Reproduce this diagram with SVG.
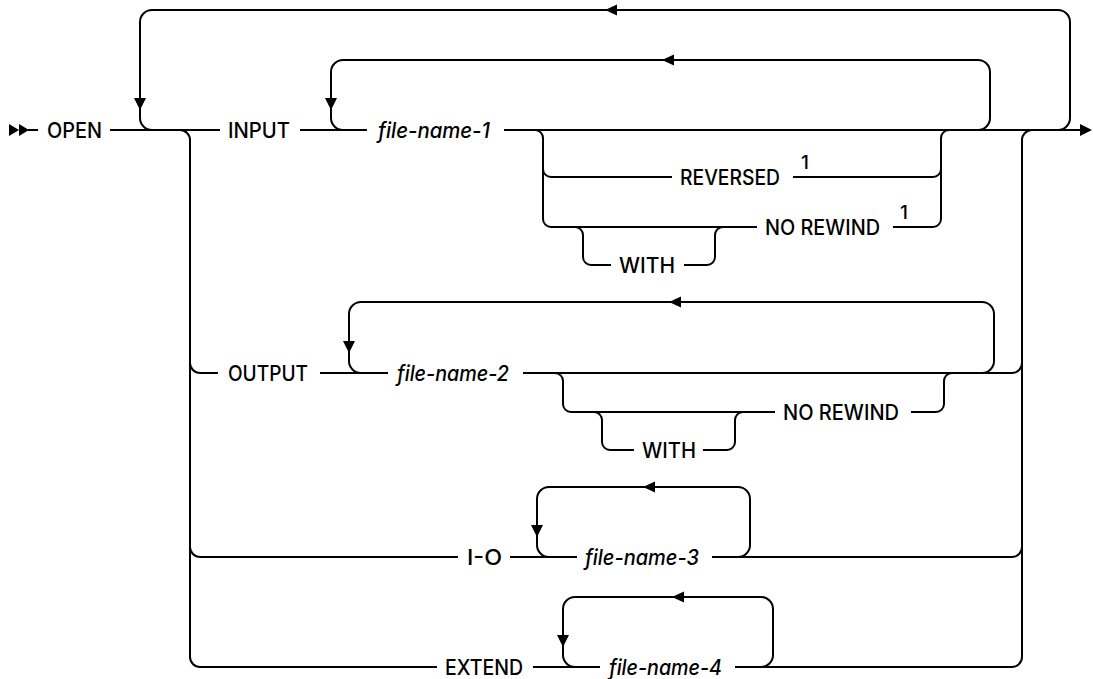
<svg xmlns="http://www.w3.org/2000/svg" width="1093" height="679" viewBox="0 0 1093 679">
<style>
.ln{fill:none;stroke:#000;stroke-width:2;stroke-linecap:butt;stroke-linejoin:round}
.ah{fill:#000;stroke:none}
.t{font-family:Inter,"Liberation Sans",Arial,sans-serif;font-size:21px;font-weight:500;fill:#000}
.v{font-family:Inter,"Liberation Sans",Arial,sans-serif;font-size:21px;font-weight:500;font-style:italic;fill:#000}
.n{font-family:Inter,"Liberation Sans",Arial,sans-serif;font-size:19px;font-weight:500;fill:#000}
</style>
<rect width="1093" height="679" fill="#fff"/>
<g id="connectors">
<!-- start marker -->
<path class="ah" d="M9,124 L19,130 L9,136 Z M19,124 L29,130 L19,136 Z"/>
<path class="ln" d="M28,130 H38"/>
<!-- main line -->
<path class="ln" d="M110,130 H220 M300,130 H367 M504,130 H1080"/>
<path class="ah" d="M1080,124 L1092,130 L1080,136 Z"/>
<!-- outer repeat loop -->
<path class="ln" d="M1058,130 A12,12 0 0 0 1070,118 V22 A12,12 0 0 0 1058,10 H152 A12,12 0 0 0 140,22 V118 A12,12 0 0 0 152,130"/>
<path class="ah" d="M605,10 L617,4.5 L617,15.5 Z M134,98 L146,98 L140,110 Z"/>
<!-- main choice left / right -->
<path class="ln" d="M180,130 A10,10 0 0 1 190,140 V657 A10,10 0 0 0 200,667 H437"/>
<path class="ln" d="M190,363 A10,10 0 0 0 200,373 H218 M190,547 A10,10 0 0 0 200,557 H458"/>
<path class="ln" d="M1032,130 A10,10 0 0 0 1022,140 V657 A10,10 0 0 1 1012,667 H735"/>
<path class="ln" d="M523,373 H1012 A10,10 0 0 0 1022,363 M712,557 H1012 A10,10 0 0 0 1022,547"/>
<!-- file-name-1 loop -->
<path class="ln" d="M978,130 A12,12 0 0 0 990,118 V72 A12,12 0 0 0 978,60 H343 A12,12 0 0 0 331,72 V118 A12,12 0 0 0 343,130"/>
<path class="ah" d="M662,60 L674,54.5 L674,65.5 Z M325,98 L337,98 L331,110 Z"/>
<!-- REVERSED / NO REWIND choice -->
<path class="ln" d="M535,130 A8,8 0 0 1 543,138 V219 A8,8 0 0 0 551,227 H757 M543,169 A8,8 0 0 0 551,177 H672"/>
<path class="ln" d="M793,177 H933 A8,8 0 0 0 941,169 M893,227 H933 A8,8 0 0 0 941,219 V138 A8,8 0 0 1 949,130"/>
<!-- WITH 1 -->
<path class="ln" d="M575,227 A8,8 0 0 1 583,235 V257 A8,8 0 0 0 591,265 H611 M684,265 H707 A8,8 0 0 0 715,257 V235 A8,8 0 0 1 723,227"/>
<!-- OUTPUT row -->
<path class="ln" d="M320,373 H388"/>
<path class="ln" d="M982,373 A12,12 0 0 0 994,361 V314 A12,12 0 0 0 982,302 H361 A12,12 0 0 0 349,314 V361 A12,12 0 0 0 361,373"/>
<path class="ah" d="M669,302 L681,296.5 L681,307.5 Z M343,341 L355,341 L349,353 Z"/>
<path class="ln" d="M555,373 A8,8 0 0 1 563,381 V404 A8,8 0 0 0 571,412 H775 M911,412 H936 A8,8 0 0 0 944,404 V381 A8,8 0 0 1 952,373"/>
<path class="ln" d="M594,412 A8,8 0 0 1 602,420 V442 A8,8 0 0 0 610,450 H634 M703,450 H727 A8,8 0 0 0 735,442 V420 A8,8 0 0 1 743,412"/>
<!-- I-O row -->
<path class="ln" d="M510,557 H577"/>
<path class="ln" d="M738,557 A12,12 0 0 0 750,545 V499 A12,12 0 0 0 738,487 H549 A12,12 0 0 0 537,499 V545 A12,12 0 0 0 549,557"/>
<path class="ah" d="M643,487 L655,481.5 L655,492.5 Z M531,525 L543,525 L537,537 Z"/>
<!-- EXTEND row -->
<path class="ln" d="M533,667 H600"/>
<path class="ln" d="M761,667 A12,12 0 0 0 773,655 V609 A12,12 0 0 0 761,597 H575 A12,12 0 0 0 563,609 V655 A12,12 0 0 0 575,667"/>
<path class="ah" d="M672,597 L684,591.5 L684,602.5 Z M557,635 L569,635 L563,647 Z"/>
</g>
<g id="open"><text class="t" x="47" y="137.5" textLength="55" lengthAdjust="spacingAndGlyphs">OPEN</text></g>
<g id="input"><text class="t" x="228" y="137.5" textLength="62" lengthAdjust="spacingAndGlyphs">INPUT</text></g>
<g id="file-name-1"><text class="v" x="378" y="137.5" textLength="112" lengthAdjust="spacingAndGlyphs">file-name-1</text></g>
<g id="reversed"><text class="t" x="680" y="184.5" textLength="100" lengthAdjust="spacingAndGlyphs">REVERSED</text><text class="n" x="801" y="169">1</text></g>
<g id="no-rewind-1"><text class="t" x="765" y="234.5" textLength="115" lengthAdjust="spacingAndGlyphs">NO REWIND</text><text class="n" x="900" y="219">1</text></g>
<g id="with-1"><text class="t" x="619" y="272.5" textLength="56" lengthAdjust="spacingAndGlyphs">WITH</text></g>
<g id="output"><text class="t" x="228" y="380.5" textLength="80" lengthAdjust="spacingAndGlyphs">OUTPUT</text></g>
<g id="file-name-2"><text class="v" x="397" y="380.5" textLength="112" lengthAdjust="spacingAndGlyphs">file-name-2</text></g>
<g id="no-rewind-2"><text class="t" x="783" y="419.5" textLength="116" lengthAdjust="spacingAndGlyphs">NO REWIND</text></g>
<g id="with-2"><text class="t" x="642" y="457.5" textLength="54" lengthAdjust="spacingAndGlyphs">WITH</text></g>
<g id="i-o"><text class="t" x="467" y="564.5" textLength="35" lengthAdjust="spacingAndGlyphs">I-O</text></g>
<g id="file-name-3"><text class="v" x="585" y="564.5" textLength="114" lengthAdjust="spacingAndGlyphs">file-name-3</text></g>
<g id="extend"><text class="t" x="445" y="674.5" textLength="78" lengthAdjust="spacingAndGlyphs">EXTEND</text></g>
<g id="file-name-4"><text class="v" x="609" y="674.5" textLength="113" lengthAdjust="spacingAndGlyphs">file-name-4</text></g>
</svg>
